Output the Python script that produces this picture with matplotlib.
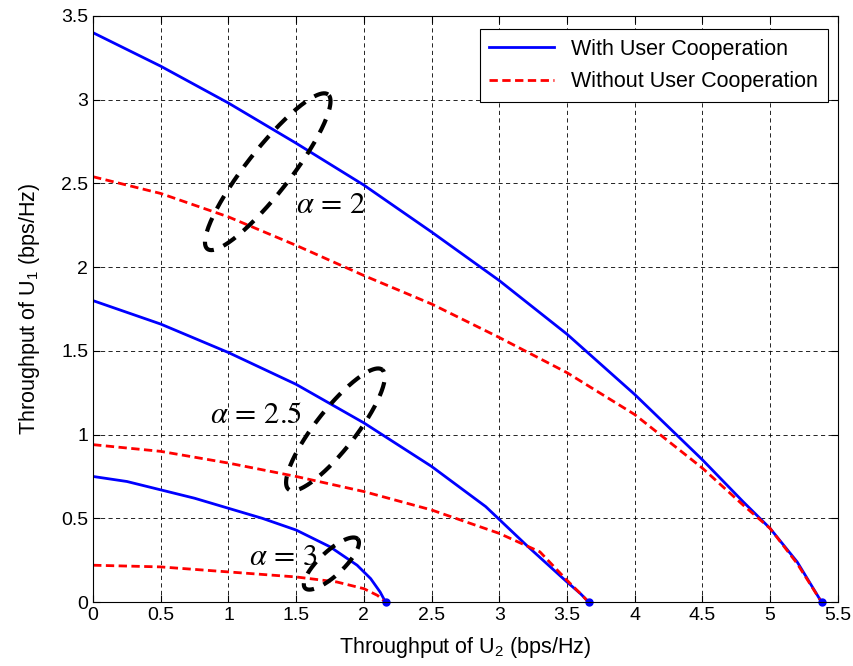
import numpy as np
import matplotlib.pyplot as plt

# PARAMETERS
plt.rcParams['font.family'] = ['Liberation Sans', 'DejaVu Sans']
plt.rcParams['mathtext.fontset'] = 'custom'
plt.rcParams['mathtext.rm'] = 'Liberation Sans'
plt.rcParams['mathtext.it'] = 'Liberation Sans:italic'

# alpha = 2
x_coop_a2 = [0, 0.5, 1.0, 1.5, 2.0, 2.5, 3.0, 3.5, 4.0, 4.5, 4.8, 5.0, 5.2, 5.38]
y_coop_a2 = [3.40, 3.20, 2.98, 2.74, 2.49, 2.21, 1.92, 1.60, 1.24, 0.85, 0.60, 0.44, 0.24, 0.0]
x_non_a2 = [0, 0.5, 1.0, 1.5, 2.0, 2.5, 3.0, 3.5, 4.0, 4.5, 4.8, 5.0, 5.2, 5.38]
y_non_a2 = [2.54, 2.44, 2.30, 2.13, 1.95, 1.78, 1.58, 1.37, 1.12, 0.80, 0.58, 0.44, 0.23, 0.0]

# alpha = 2.5
x_coop_a25 = [0, 0.5, 1.0, 1.5, 2.0, 2.5, 2.9, 3.2, 3.5, 3.6, 3.66]
y_coop_a25 = [1.80, 1.66, 1.49, 1.30, 1.07, 0.81, 0.57, 0.34, 0.12, 0.05, 0.0]
x_non_a25 = [0, 0.5, 1.0, 1.5, 2.0, 2.5, 3.0, 3.3, 3.5, 3.6, 3.66]
y_non_a25 = [0.94, 0.90, 0.83, 0.75, 0.66, 0.55, 0.41, 0.30, 0.13, 0.05, 0.0]

# alpha = 3
x_coop_a3 = [0, 0.25, 0.5, 0.75, 1.0, 1.25, 1.5, 1.75, 1.95, 2.05, 2.12, 2.16]
y_coop_a3 = [0.75, 0.72, 0.67, 0.62, 0.56, 0.50, 0.43, 0.33, 0.22, 0.14, 0.06, 0.0]
x_non_a3 = [0, 0.5, 1.0, 1.5, 1.8, 2.0, 2.1, 2.16]
y_non_a3 = [0.22, 0.21, 0.18, 0.15, 0.12, 0.08, 0.04, 0.0]

end_x = [2.16, 3.66, 5.38]
end_y = [0, 0, 0]

# ellipses: centre (data), semi axes (pixels), angle (deg)
ellipses = [((1.29, 2.57), 98, 22, 52), ((1.79, 1.03), 76, 20, 52), ((1.76, 0.23), 36, 12, 43)]
alpha_labels = [(r'$\alpha\,=\,2$', 1.50, 2.37), (r'$\alpha\,=\,2.5$', 0.86, 1.12), (r'$\alpha\,=\,3$', 1.15, 0.27)]


if __name__ == '__main__':
    fig = plt.figure(figsize=(8.54, 6.66), dpi=100)
    ax = fig.add_axes([0.109, 0.096, 0.872, 0.880])

    ax.plot(x_coop_a2, y_coop_a2, color='blue', lw=2, label='With User Cooperation')
    ax.plot(x_non_a2, y_non_a2, color='red', lw=2, ls=(0, (3, 1.6)), label='Without User Cooperation')
    ax.plot(x_coop_a25, y_coop_a25, color='blue', lw=2)
    ax.plot(x_non_a25, y_non_a25, color='red', lw=2, ls=(0, (3, 1.6)))
    ax.plot(x_coop_a3, y_coop_a3, color='blue', lw=2)
    ax.plot(x_non_a3, y_non_a3, color='red', lw=2, ls=(0, (3, 1.6)))
    ax.plot(end_x, end_y, 'o', color='blue', ms=5, clip_on=False)

    ax.set_xlim(0, 5.5)
    ax.set_ylim(0, 3.5)
    ax.set_xticks(np.arange(0, 5.51, 0.5))
    ax.set_yticks(np.arange(0, 3.51, 0.5))
    ax.set_xticklabels(['0', '0.5', '1', '1.5', '2', '2.5', '3', '3.5', '4', '4.5', '5', '5.5'])
    ax.set_yticklabels(['0', '0.5', '1', '1.5', '2', '2.5', '3', '3.5'])
    ax.tick_params(direction='in', top=True, right=True, labelsize=14, length=5)
    ax.grid(True, color='black', ls=(0, (5, 4)), lw=0.6)

    # pixel -> data scale
    sx = 5.5 / (0.872 * 854)
    sy = 3.5 / (0.880 * 666)
    t = np.linspace(0, 2 * np.pi, 200)
    for (cx, cy), a, b, ang in ellipses:
        th = np.radians(ang)
        px = a * np.cos(t) * np.cos(th) - b * np.sin(t) * np.sin(th)
        py = a * np.cos(t) * np.sin(th) + b * np.sin(t) * np.cos(th)
        ax.plot(cx + px * sx, cy + py * sy, color='black', lw=3, ls=(0, (3.5, 2.5)))

    for txt, tx, ty in alpha_labels:
        ax.text(tx, ty, txt, fontsize=22, math_fontfamily='stix', va='center', ha='left')

    ax.set_xlabel('Throughput of U$_2$ (bps/Hz)', fontsize=15.5, labelpad=8)
    ax.set_ylabel('Throughput of U$_1$ (bps/Hz)', fontsize=15.5, labelpad=14)
    leg = ax.legend(loc='upper right', bbox_to_anchor=(0.9866, 0.978), borderaxespad=0,
                    fontsize=15.5, fancybox=False, edgecolor='black', framealpha=1,
                    handlelength=3.0, labelspacing=0.55, borderpad=0.45)
    leg.get_frame().set_linewidth(0.8)

    plt.savefig('out.png', dpi=100)
